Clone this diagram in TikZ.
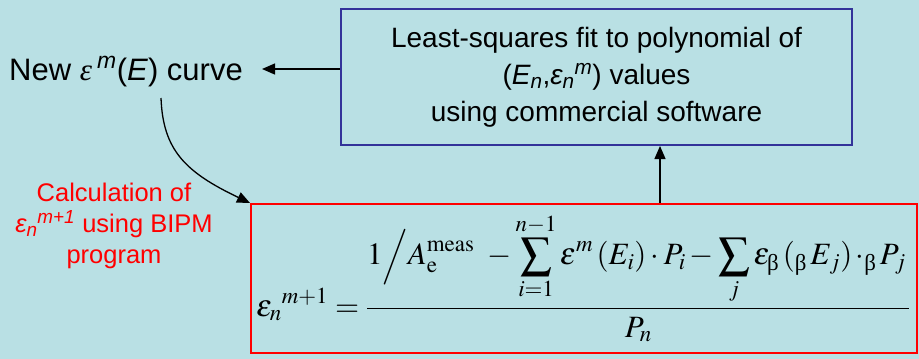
\documentclass[tikz,border=0pt]{standalone}
\usepackage{amsmath}
\usepackage{mathptmx}
\usepackage[no-math]{fontspec}
\setmainfont{Liberation Sans}
\newfontfamily\serifgreek{Liberation Serif}
\usetikzlibrary{arrows.meta,calc}
\definecolor{bgc}{RGB}{185,224,228}
\definecolor{boxblue}{RGB}{51,51,153}
\newcommand\ubeta{\text{\serifgreek β}}
\begin{document}
\begin{tikzpicture}[x=1pt,y=-1pt,
  big/.style={font=\fontsize{28}{37}\selectfont},
  redlbl/.style={font=\fontsize{25.5}{31}\selectfont,text=red,align=center},
  arr/.style={-{Triangle[length=13pt,width=11pt]},line width=1.3pt}]
\fill[bgc] (0,0) rectangle (919,359);
\node[big,draw=boxblue,line width=2pt,minimum width=511pt,minimum height=136pt,align=center] (fit) at (596.5,77)
  {Least-squares fit to polynomial of\\ (\textit{E\textsubscript{n}},\textit{ε\textsubscript{n}\textsuperscript{m}}) values\\ using commercial software};
\node[draw=red,line width=2pt,minimum width=666pt,minimum height=149pt] (calc) at (584,278.5) {};
\node[anchor=base west,inner sep=0pt,font=\fontsize{31}{36}\selectfont] (eq) at (256,316)
  {$\displaystyle \varepsilon_n{}^{m+1} = \frac{\displaystyle 1\Big/A_{\mathrm{e}}^{\mathrm{meas}}\ - \sum_{i=1}^{n-1}\varepsilon^m\,(E_i)\cdot P_i - \sum_j\varepsilon_{\ubeta}\,({}_{\ubeta}\,E_j)\,{\cdot}{}_{\ubeta}\,P_j\,}{P_n}$};
\node[redlbl] (lab) at (114,226) {Calculation of\\ \textit{ε\textsubscript{n}\textsuperscript{m+1}} using BIPM\\ program};
\node[font=\fontsize{31}{37}\selectfont,anchor=base,inner sep=0pt] (new) at (126,80) {New \textit{{\serifgreek ε}\,\textsuperscript{m}}(\textit{E}) curve};
\coordinate (h) at (0,69);
\coordinate (cs) at (161,98);
\coordinate (v) at (660,0);
\draw[arr] (fit.west |- h) -- (262,69);
\draw[arr] (cs) .. controls (163,150) and (185,172) .. (calc.north west);
\draw[arr] (calc.north -| v) -- (fit.south -| v);
\end{tikzpicture}
\end{document}
